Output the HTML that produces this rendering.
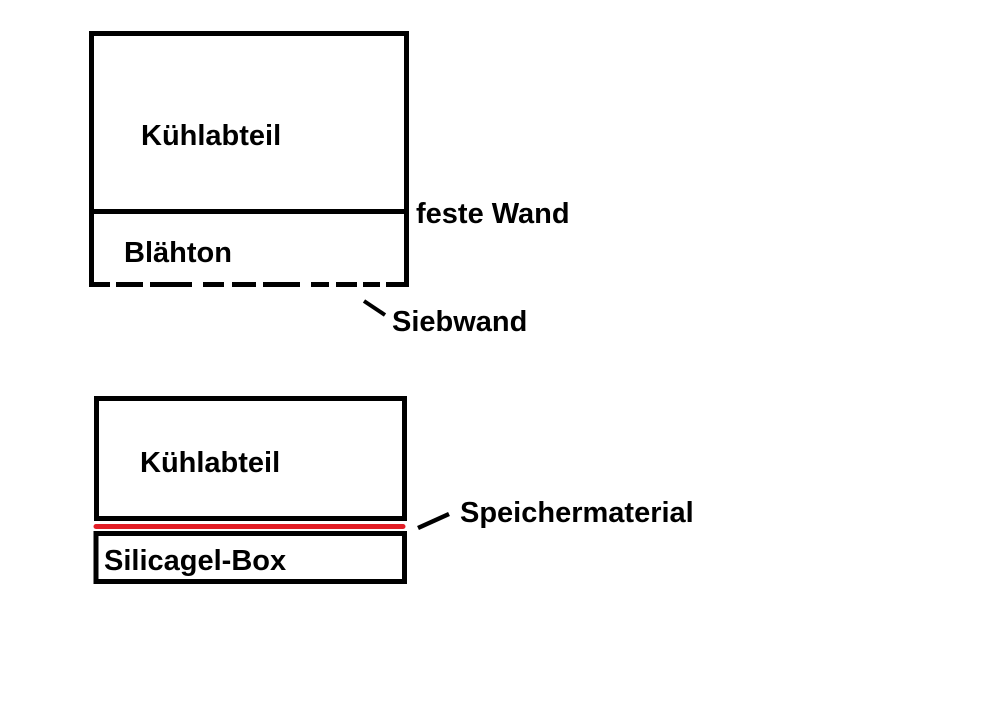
<!DOCTYPE html>
<html>
<head>
<meta charset="utf-8">
<style>
html,body{margin:0;padding:0;background:#fff;}
svg{display:block;}
text{font-family:"Liberation Sans",Arial,sans-serif;font-weight:bold;font-size:29px;fill:#000;}
</style>
</head>
<body>
<svg width="984" height="723" viewBox="0 0 984 723" xmlns="http://www.w3.org/2000/svg">
<rect x="0" y="0" width="984" height="723" fill="#fff"/>
<!-- Top box -->
<rect x="89" y="31" width="320" height="5" fill="#000"/>
<rect x="89" y="31" width="5" height="256" fill="#000"/>
<rect x="404" y="31" width="5" height="256" fill="#000"/>
<rect x="89" y="209" width="320" height="5" fill="#000"/>
<!-- dashed bottom -->
<g fill="#000">
<rect x="89" y="282" width="21" height="5"/>
<rect x="116" y="282" width="27" height="5"/>
<rect x="150" y="282" width="42" height="5"/>
<rect x="203" y="282" width="21" height="5"/>
<rect x="232" y="282" width="24" height="5"/>
<rect x="263" y="282" width="37" height="5"/>
<rect x="311" y="282" width="18" height="5"/>
<rect x="336" y="282" width="21" height="5"/>
<rect x="363" y="282" width="17" height="5"/>
<rect x="386" y="282" width="23" height="5"/>
</g>
<text x="141" y="145">Kühlabteil</text>
<text x="416" y="223">feste Wand</text>
<text x="124" y="262">Blähton</text>
<line x1="364" y1="301" x2="385" y2="315" stroke="#000" stroke-width="4"/>
<text x="392" y="331">Siebwand</text>

<!-- Bottom diagram -->
<rect x="96.5" y="398.5" width="308" height="120" fill="none" stroke="#000" stroke-width="5"/>
<line x1="96" y1="526.5" x2="403" y2="526.5" stroke="#e21d26" stroke-width="5" stroke-linecap="round"/>
<rect x="96" y="533.5" width="308.5" height="48" fill="none" stroke="#000" stroke-width="5"/>
<text x="140" y="472">Kühlabteil</text>
<text x="104" y="570">Silicagel-Box</text>
<line x1="418" y1="528" x2="449" y2="514" stroke="#000" stroke-width="4.5"/>
<text x="460" y="522">Speichermaterial</text>
</svg>
</body>
</html>
